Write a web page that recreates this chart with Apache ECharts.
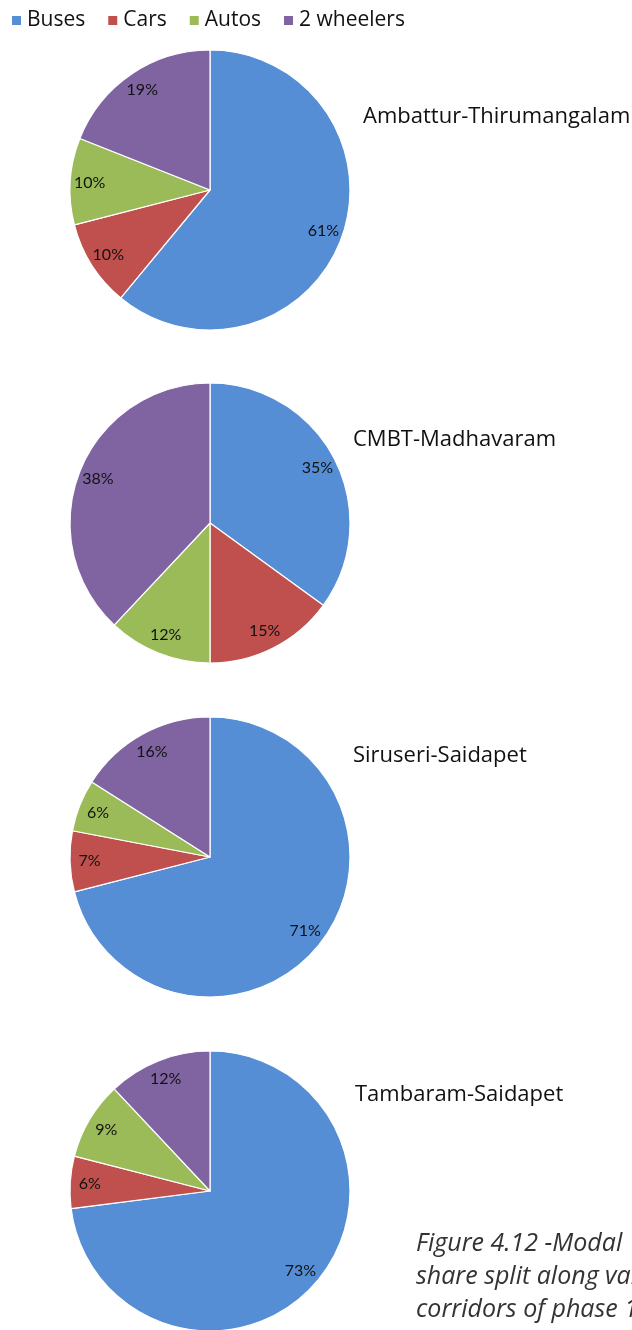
<!DOCTYPE html>
<html>
<head>
<meta charset="utf-8">
<script src="https://cdn.jsdelivr.net/npm/echarts@6/dist/echarts.min.js"></script>
<style>
  html, body { margin: 0; padding: 0; background: #fff; }
  #chart { width: 632px; height: 1330px; }
</style>
</head>
<body>
<div id="chart"></div>
<script>
// Travel modes and their colours
const categories = ['Buses', 'Cars', 'Autos', '2 wheelers'];
const modeColors = ['#558ed5', '#c0504d', '#9bbb59', '#8064a2'];

// Corridors of phase 1 and modal share (%) per corridor
const corridors = ['Ambattur-Thirumangalam', 'CMBT-Madhavaram', 'Siruseri-Saidapet', 'Tambaram-Saidapet'];
const ambatturThirumangalam = [61, 10, 10, 19];
const cmbtMadhavaram = [35, 15, 12, 38];
const siruseriSaidapet = [71, 7, 6, 16];
const tambaramSaidapet = [73, 6, 9, 12];
const shares = [ambatturThirumangalam, cmbtMadhavaram, siruseriSaidapet, tambaramSaidapet];

const caption = 'Figure 4.12 -Modal\nshare split along various\ncorridors of phase 1';

const centers = [[210, 190], [210, 523], [210, 857], [210, 1191]];
const titlePos = [[358, 101], [348, 424], [348, 740], [350, 1079]];
const R = 140;

const fontFamily = '"Open Sans", "Noto Sans", sans-serif';

const series = [];
shares.forEach((vals, i) => {
  const data = vals.map((v, k) => ({ name: categories[k], value: v, itemStyle: { color: modeColors[k] } }));
  // filled pie
  series.push({
    type: 'pie',
    center: centers[i],
    radius: [0, R],
    startAngle: 90,
    clockwise: true,
    silent: true,
    label: { show: false },
    labelLine: { show: false },
    itemStyle: { borderColor: '#ffffff', borderWidth: 1.2 },
    emphasis: { disabled: true },
    data: data
  });
  // transparent ring carrying the percentage labels near the rim
  series.push({
    type: 'pie',
    center: centers[i],
    radius: [95, R],
    startAngle: 90,
    clockwise: true,
    silent: true,
    legendHoverLink: false,
    itemStyle: { color: 'rgba(0,0,0,0)', borderWidth: 0 },
    label: {
      show: true,
      position: 'inside',
      formatter: '{c}%',
      color: '#111',
      fontSize: 16,
      fontFamily: 'Lato, "Noto Sans", sans-serif'
    },
    labelLine: { show: false },
    emphasis: { disabled: true },
    data: vals.map((v, k) => ({ name: categories[k], value: v }))
  });
});

const titles = corridors.map((name, i) => ({
  text: name,
  left: titlePos[i][0],
  top: titlePos[i][1],
  textStyle: { fontSize: 22, fontWeight: 'normal', color: '#111', fontFamily: fontFamily }
}));
titles.push({
  text: caption,
  left: 411,
  top: 1222,
  textStyle: {
    fontSize: 25,
    fontWeight: 'normal',
    fontStyle: 'italic',
    color: '#333',
    lineHeight: 33,
    fontFamily: fontFamily
  }
});

const chart = echarts.init(document.getElementById('chart'), null, { renderer: 'canvas' });
chart.setOption({
  animation: false,
  backgroundColor: '#ffffff',
  title: titles,
  legend: {
    left: 5,
    top: 5,
    icon: 'rect',
    itemWidth: 11,
    itemHeight: 11,
    itemGap: 21,
    selectedMode: false,
    textStyle: { fontSize: 21, color: '#111', fontFamily: fontFamily },
    data: categories.map((c, k) => ({ name: c, itemStyle: { color: modeColors[k] } }))
  },
  series: series
});
</script>
</body>
</html>
